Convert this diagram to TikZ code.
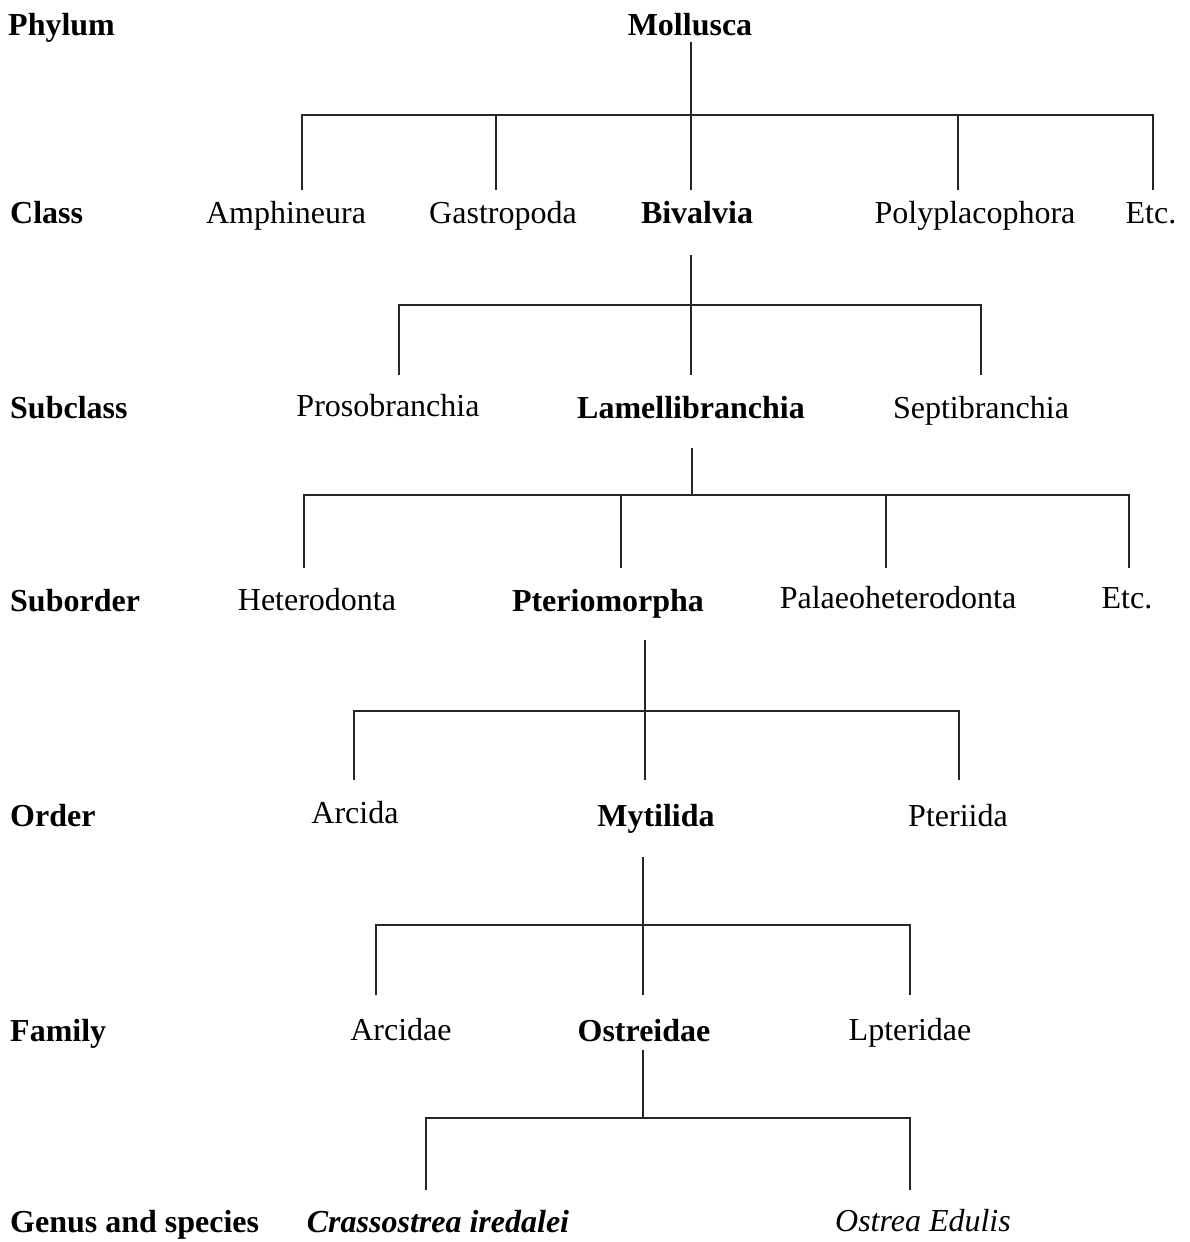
\documentclass[tikz,border=0pt]{standalone}
\usepackage{fontspec}
\setmainfont{Liberation Serif}
\begin{document}
\begin{tikzpicture}[x=1pt,y=-1pt,
  lbl/.style={anchor=base west,inner sep=0pt,font=\fontsize{32}{36}\selectfont\bfseries},
  tx/.style={anchor=base,inner sep=0pt,font=\fontsize{32}{36}\selectfont},
  bx/.style={tx,font=\fontsize{32}{36}\selectfont\bfseries},
  ln/.style={line width=1.8pt,color=black!85}]
\useasboundingbox[fill=white] (0,0) rectangle (1190,1242);
% left labels
\node[lbl] (lphy) at (8,35) {Phylum};
\node[lbl] (lcla) at (10,223) {Class};
\node[lbl] (lsub) at (10,418) {Subclass};
\node[lbl] (lsuo) at (10,611) {Suborder};
\node[lbl] (lord) at (10,826) {Order};
\node[lbl] (lfam) at (10,1041) {Family};
\node[lbl] (lgen) at (10,1232) {Genus and species};
% taxa
\node[bx] (moll) at (690,35) {Mollusca};
\node[tx] (amph) at (286,223) {Amphineura};
\node[tx] (gast) at (503,223) {Gastropoda};
\node[bx] (biva) at (697,223) {Bivalvia};
\node[tx] (poly) at (975,223) {Polyplacophora};
\node[tx] (etc1) at (1151,223) {Etc.};
\node[tx] (pros) at (388,416) {Prosobranchia};
\node[bx] (lame) at (691,418) {Lamellibranchia};
\node[tx] (sept) at (981,418) {Septibranchia};
\node[tx] (hete) at (317,610) {Heterodonta};
\node[bx] (pter) at (608,611) {Pteriomorpha};
\node[tx] (pala) at (898,608) {Palaeoheterodonta};
\node[tx] (etc2) at (1127,608) {Etc.};
\node[tx] (arci) at (355,823) {Arcida};
\node[bx] (myti) at (656,826) {Mytilida};
\node[tx] (ptri) at (958,826) {Pteriida};
\node[tx] (arce) at (401,1040) {Arcidae};
\node[bx] (ostr) at (644,1041) {Ostreidae};
\node[tx] (lpte) at (910,1040) {Lpteridae};
\node[bx,font=\fontsize{32}{36}\selectfont\bfseries\itshape] (cras) at (438,1232) {Crassostrea iredalei};
\node[tx,font=\fontsize{32}{36}\selectfont\itshape] (oedu) at (923,1231) {Ostrea Edulis};
% junction coordinates
\coordinate (t1) at (691,42);   \coordinate (j1) at (691,115);
\coordinate (b1a) at (302,115); \coordinate (d1a) at (302,190);
\coordinate (b1b) at (496,115); \coordinate (d1b) at (496,190);
\coordinate (d1c) at (691,190);
\coordinate (b1d) at (958,115); \coordinate (d1d) at (958,190);
\coordinate (b1e) at (1153,115); \coordinate (d1e) at (1153,190);
\coordinate (t2) at (691,255);  \coordinate (j2) at (691,305);
\coordinate (b2a) at (399,305); \coordinate (d2a) at (399,375);
\coordinate (d2b) at (691,375);
\coordinate (b2c) at (981,305); \coordinate (d2c) at (981,375);
\coordinate (t3) at (692,448);  \coordinate (j3) at (692,495);
\coordinate (b3a) at (304,495); \coordinate (d3a) at (304,568);
\coordinate (b3b) at (621,495); \coordinate (d3b) at (621,568);
\coordinate (b3c) at (886,495); \coordinate (d3c) at (886,568);
\coordinate (b3d) at (1129,495); \coordinate (d3d) at (1129,568);
\coordinate (t4) at (645,640);  \coordinate (j4) at (645,711);
\coordinate (b4a) at (354,711); \coordinate (d4a) at (354,780);
\coordinate (d4b) at (645,780);
\coordinate (b4c) at (959,711); \coordinate (d4c) at (959,780);
\coordinate (t5) at (643,857);  \coordinate (j5) at (643,925);
\coordinate (b5a) at (376,925); \coordinate (d5a) at (376,995);
\coordinate (d5b) at (643,995);
\coordinate (b5c) at (910,925); \coordinate (d5c) at (910,995);
\coordinate (t6) at (643,1050); \coordinate (j6) at (643,1118);
\coordinate (b6a) at (426,1118); \coordinate (d6a) at (426,1190);
\coordinate (b6b) at (910,1118); \coordinate (d6b) at (910,1190);
% connectors
\draw[ln] (t1) -- (d1c);
\draw[ln] (d1a) -- (b1a) -- (b1e) -- (d1e);
\draw[ln] (b1b) -- (d1b);
\draw[ln] (b1d) -- (d1d);
\draw[ln] (t2) -- (d2b);
\draw[ln] (d2a) -- (b2a) -- (b2c) -- (d2c);
\draw[ln] (t3) -- (j3);
\draw[ln] (d3a) -- (b3a) -- (b3d) -- (d3d);
\draw[ln] (b3b) -- (d3b);
\draw[ln] (b3c) -- (d3c);
\draw[ln] (t4) -- (d4b);
\draw[ln] (d4a) -- (b4a) -- (b4c) -- (d4c);
\draw[ln] (t5) -- (d5b);
\draw[ln] (d5a) -- (b5a) -- (b5c) -- (d5c);
\draw[ln] (t6) -- (j6);
\draw[ln] (d6a) -- (b6a) -- (b6b) -- (d6b);
\end{tikzpicture}
\end{document}
